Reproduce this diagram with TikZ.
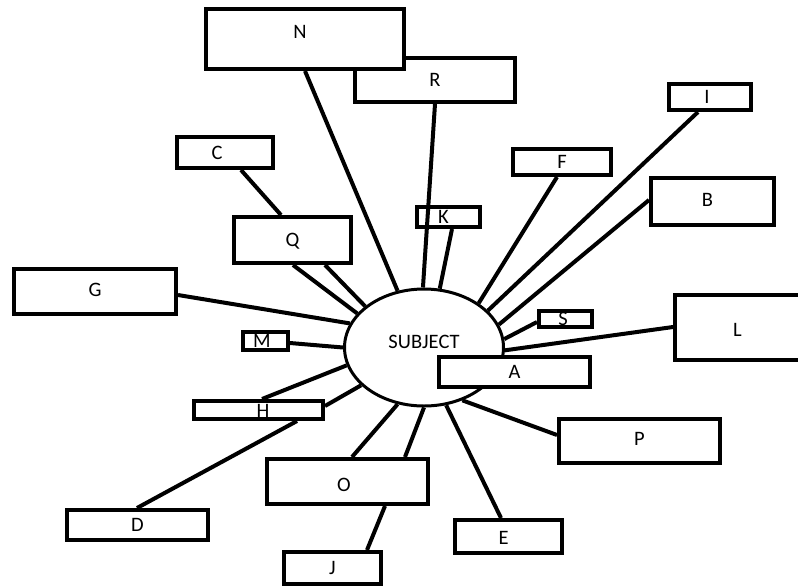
\documentclass[tikz,border=0pt]{standalone}
\usepackage{fontspec}
\setmainfont{Carlito}
\usetikzlibrary{shapes.geometric}
\newcommand\mylbl[2]{\hspace*{#1}#2}
\tikzset{
  box/.style={draw, line width=4pt, fill=white, inner sep=0pt, rectangle,
    text height=13pt, text depth=0pt, font=\fontsize{20.5}{24}\selectfont},
  conn/.style={line width=4pt},
  bw/.style 2 args={minimum width=#1pt-4pt, minimum height=#2pt-4pt},
}
\begin{document}
\begin{tikzpicture}[x=1pt,y=-1pt]
\useasboundingbox (0,0) rectangle (798,587);
\clip (0,0) rectangle (798,587);
\fill[white] (0,0) rectangle (798,587);
% central ellipse
\node[ellipse, draw, line width=3pt, fill=white, inner sep=0pt,
      minimum width=159pt, minimum height=117pt,
      text height=13pt, text depth=12pt, font=\fontsize{20.5}{24}\selectfont]
      (subj) at (424,347.5) {SUBJECT};
% boxes
\node[box, bw={164}{48}] (r) at (435,80) {R};
\node[box, bw={202}{64}, text depth=14pt] (n) at (305,39) {\mylbl{-10pt}{N}};
\node[box, bw={100}{35}] (c) at (225,152.5) {\mylbl{-16pt}{C}};
\node[box, bw={121}{50}] (q) at (292.5,240) {Q};
\node[box, bw={86}{30}] (i) at (710,97) {\mylbl{-6pt}{I}};
\node[box, bw={102}{30}] (f) at (562,162) {F};
\node[box, bw={127}{51}, text depth=4pt] (b) at (712.5,201.5) {\mylbl{-10pt}{B}};
\node[box, bw={67}{24}] (k) at (448.5,217) {\mylbl{-10pt}{K}};
\node[box, bw={166}{49}, text depth=4pt] (g) at (95,291.5) {G};
\node[box, bw={49}{22}] (m) at (265.5,341) {\mylbl{-7pt}{M}};
\node[box, bw={57}{20}] (s) at (565.5,319) {\mylbl{-5pt}{S}};
\node[box, bw={129}{69}, text height=18pt] (l) at (737.5,327.5) {L};
\node[box, bw={155}{34}] (a) at (514.5,372) {A};
\node[box, bw={133}{22}, text height=15pt] (h) at (258.5,410) {\mylbl{9pt}{H}};
\node[box, bw={165}{48}, text depth=4pt] (p) at (639.5,441) {P};
\node[box, bw={145}{34}] (d) at (137.5,525) {D};
\node[box, bw={165}{49}, text height=20pt] (o) at (347.5,481.5) {\mylbl{-7pt}{O}};
\node[box, bw={101}{36}] (j) at (332.5,568) {J};
\node[box, bw={111}{37}, text height=16pt] (e) at (508.5,536.5) {\mylbl{-10pt}{E}};
% connectors
\draw[conn] (n.south -| 305,0) -- (subj.115.2);
\draw[conn] (r.south -| 435,0) -- (subj.91);
\draw[conn] (k.south -| 452,0) -- (subj.75.8);
\draw[conn] (f.south -| 557,0) -- (subj.39);
\draw[conn] (i.south -| 698,0) -- (subj.30.4);
\draw[conn] (b.west |- 0,200) -- (subj.17.9);
\draw[conn] (s.west |- 0,322) -- (subj.6.7);
\draw[conn] (l.west |- 0,327) -- (subj.-2.5);
\draw[conn] (p.west |- 0,435) -- (subj.-54.9);
\draw[conn] (e.north -| 501,0) -- (subj.-69.7);
\draw[conn] (o.north -| 405,0) -- (subj.-90);
\draw[conn] (o.north -| 352,0) -- (subj.-115.2);
\draw[conn] (j.north -| 367,0) -- (o.south -| 385,0);
\draw[conn] (d.north -| 137,0) -- (h.south -| 297,0);
\draw[conn] (h.east |- 0,406) -- (subj.-149.1);
\draw[conn] (h.north -| 262,0) -- (subj.-167.8);
\draw[conn] (m.east |- 0,343) -- (subj.180);
\draw[conn] (g.east |- 0,295) -- (subj.162.8);
\draw[conn] (q.south -| 293,0) -- (subj.153.4);
\draw[conn] (q.south -| 325,0) -- (subj.145.1);
\draw[conn] (c.south -| 241,0) -- (q.north -| 281,0);
\end{tikzpicture}
\end{document}
